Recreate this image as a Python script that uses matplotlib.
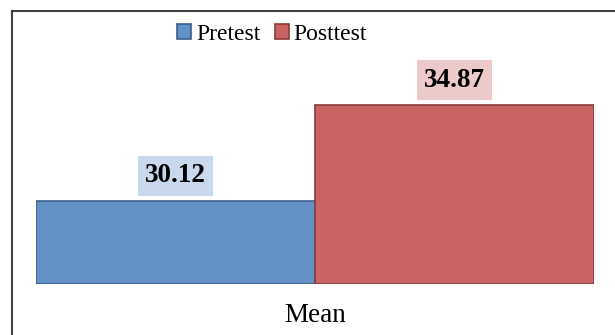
import matplotlib
matplotlib.use("Agg")
import matplotlib.pyplot as plt
from matplotlib.patches import Rectangle

# datos del grafico
grupos = ["Pretest", "Posttest"]
medias = [30.12, 34.87]
categoria = "Mean"
base = 26

colores = ["#6390c5", "#c86463"]
bordes = ["#3d5f8c", "#8a3b3a"]
cajas = ["#c9d8ec", "#edcaca"]

plt.rcParams["font.family"] = ["Liberation Serif", "DejaVu Serif"]

W, H = 615, 335
fig = plt.figure(figsize=(W / 100, H / 100), dpi=100)

# ejes en pixeles: x de 36 a 594, y de 50 a 284 (desde arriba)
ax = fig.add_axes([36 / W, 1 - 284 / H, (594 - 36) / W, (284 - 50) / H])

for i, (g, v) in enumerate(zip(grupos, medias)):
    ax.bar(i, v - base, bottom=base, width=1.0, color=colores[i],
           edgecolor=bordes[i], linewidth=1.2, label=g)
    ax.annotate(f"{v:.2f}", xy=(i, v), xytext=(0, 9), textcoords="offset points",
                ha="center", va="bottom", fontsize=19.5, fontweight="bold",
                bbox=dict(boxstyle="square,pad=0.27", fc=cajas[i], ec="none"))

ax.set_xlim(-0.5, 1.5)
ax.set_ylim(base, 37.6)
ax.axis("off")

fig.text(315 / W, 1 - 316 / H, categoria, ha="center", va="center", fontsize=19.5)

leg = fig.legend(loc="center", bbox_to_anchor=(272 / W, 1 - 34 / H), ncol=2,
                 frameon=False, fontsize=17, handlelength=0.6, handleheight=0.6,
                 handletextpad=0.2, columnspacing=0.6, borderaxespad=0)

# marco exterior
fig.patches.append(Rectangle((12 / W, -0.1), 1.2, 1 - 11 / H + 0.1,
                             transform=fig.transFigure, fill=False,
                             edgecolor="#404040", linewidth=1.5))

fig.savefig("out.png", dpi=100)
